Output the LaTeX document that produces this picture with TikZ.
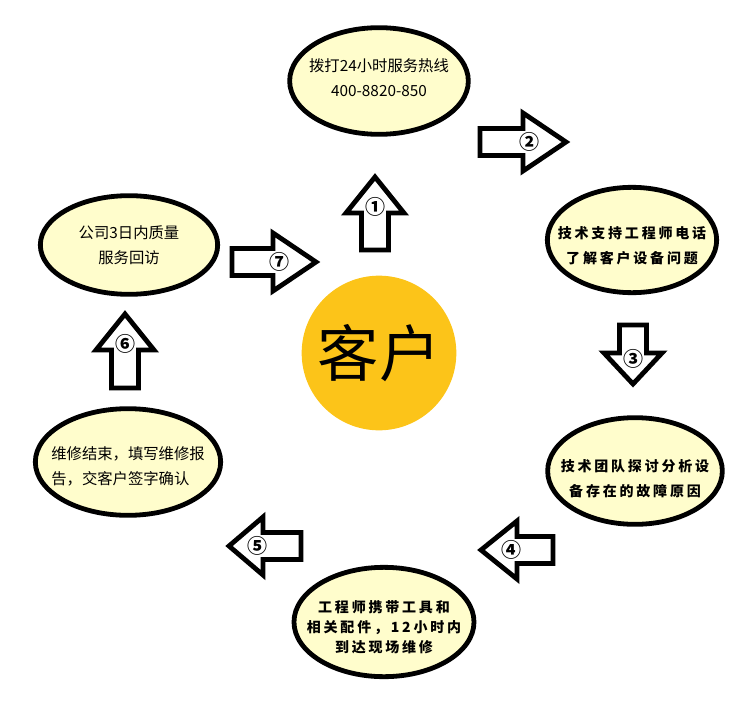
\documentclass[tikz,border=0pt]{standalone}
\usepackage{xcolor}
\usepackage{fontspec}
\setmainfont{Noto Sans CJK SC}
\newfontfamily\boldcjk{Noto Sans CJK SC}[LetterSpace=20]
\usepackage{tikz}
\usetikzlibrary{shapes.geometric}

\definecolor{stagefill}{HTML}{FFFDCC}
\definecolor{clientfill}{HTML}{FCC419}

% hollow block arrow: name, tail, direction, shaft length, head length, number
\newcommand{\flowarrow}[6]{%
  \begin{scope}[shift={#2}, rotate=#3]
    \draw[hollowarrow] (0,-13.5) -- (#4,-13.5) -- (#4,-29) -- ({#4+#5},0) -- (#4,29) -- (#4,13.5) -- (0,13.5) -- cycle;
    \node[steplabel] (#1) at ({#4+6},0) {#6};
  \end{scope}}

\begin{document}
\begin{tikzpicture}[
                x=0.75pt, y=-0.75pt,
                stage/.style={ellipse, draw=black, line width=3.6pt, fill=stagefill},
                plaintext/.style={font=\fontsize{11.5}{18.75}\selectfont, align=center},
                boldtext/.style={font={\boldcjk\bfseries\fontsize{10.5}{18.75}\selectfont}, align=center},
                client/.style={circle, fill=clientfill, minimum size=116pt, inner sep=0pt, font=\fontsize{46}{46}\selectfont},
                hollowarrow/.style={draw=black, line width=3.6pt, fill=white},
                steplabel/.style={font=\bfseries\fontsize{15}{15}\selectfont, inner sep=0pt}
            ]
                \useasboundingbox (0,0) rectangle (750,703);

                % Customer
                \node[client] (client) at (379,353) {客户};

                % Stages
                \node[stage, minimum width=134pt, minimum height=80pt,
                    label={[plaintext, yshift=2.5pt]center:{拨打24小时服务热线\\400-8820-850}}] (dial) at (379,81) {};
                \node[stage, minimum width=127pt, minimum height=79pt,
                    label={[boldtext, yshift=-4pt]center:{技术支持工程师电话\\了解客户设备问题}}] (phone) at (632,240) {};
                \node[stage, minimum width=131pt, minimum height=80pt,
                    label={[boldtext, yshift=-6pt]center:{技术团队探讨分析设\\备存在的故障原因}}] (analysis) at (635,471) {};
                \node[stage, minimum width=135pt, minimum height=82pt,
                    label={[boldtext, font={\boldcjk\bfseries\fontsize{10.5}{15}\selectfont}, yshift=-4pt]center:{工程师携带工具和\\相关配件，12小时内\\到达现场维修}}] (onsite) at (384,622) {};
                \node[stage, minimum width=139pt, minimum height=80pt,
                    label={[plaintext, align=left, yshift=-3pt]center:{维修结束，填写维修报\\告，交客户签字确认}}] (report) at (128,462) {};
                \node[stage, minimum width=133pt, minimum height=74pt,
                    label={[plaintext]center:{公司3日内质量\\服务回访}}] (visit) at (129,245) {};

                % Step arrows
                \flowarrow{stepone}{(375,250)}{90}{37}{36}{①}
                \flowarrow{steptwo}{(480,142)}{0}{43}{43}{②}
                \flowarrow{stepthree}{(633,325)}{270}{28}{31}{③}
                \flowarrow{stepfour}{(553,550)}{180}{36}{36}{④}
                \flowarrow{stepfive}{(301,546)}{180}{38}{34}{⑤}
                \flowarrow{stepsix}{(125,388)}{90}{38}{36}{⑥}
                \flowarrow{stepseven}{(232,262)}{0}{41}{43}{⑦}
            \end{tikzpicture}
\end{document}
